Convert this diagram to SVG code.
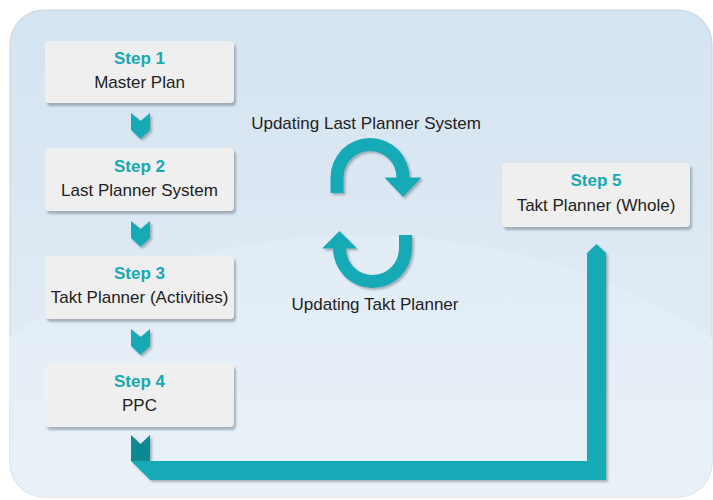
<svg xmlns="http://www.w3.org/2000/svg" width="713" height="500" viewBox="0 0 713 500">
<style>
.box{fill:#efefef;}
.t1{font-family:"Liberation Sans",Arial,sans-serif;font-size:17px;font-weight:bold;fill:#17a8b5;text-anchor:middle;}
.t2{font-family:"Liberation Sans",Arial,sans-serif;font-size:17px;fill:#222;text-anchor:middle;}
.teal{fill:#15a9b6;}
.dark{fill:#108991;}
</style>
<defs>
<linearGradient id="bg" x1="0" y1="0" x2="0" y2="1">
<stop offset="0" stop-color="#d4e4f1"/>
<stop offset="1" stop-color="#e6eef6"/>
</linearGradient>
<linearGradient id="lt" x1="0" y1="0" x2="0" y2="1">
<stop offset="0" stop-color="#e1ecf5"/>
<stop offset="0.6" stop-color="#f3f7fb"/>
<stop offset="1" stop-color="#f9fbfd"/>
</linearGradient>
<clipPath id="pc"><rect x="10" y="10" width="702" height="487" rx="34"/></clipPath>
<filter id="sh" x="-10%" y="-10%" width="130%" height="140%">
<feDropShadow dx="2" dy="3" stdDeviation="1" flood-color="#6f7e88" flood-opacity="0.55"/>
</filter>
<filter id="ash" x="-10%" y="-10%" width="130%" height="130%">
<feDropShadow dx="2" dy="2" stdDeviation="0.8" flood-color="#5f6f7a" flood-opacity="0.5"/>
</filter>
<polygon id="chev" points="131,0 140.5,8 150,0 150,17 140.5,26 131,17"/>
</defs>
<rect x="0" y="0" width="713" height="500" fill="#ffffff"/>
<g id="panel">
<rect x="10" y="10" width="702" height="487" rx="34" fill="url(#bg)" stroke="#c9d2da" stroke-width="1"/>
<g clip-path="url(#pc)">
<ellipse cx="360" cy="700" rx="560" ry="465" fill="url(#lt)"/>
</g>
</g>
<g id="connectors" filter="url(#ash)">
<use href="#chev" class="teal" y="113"/>
<use href="#chev" class="teal" y="221"/>
<use href="#chev" class="teal" y="329"/>
<polygon class="teal" points="131,461 587,461 587,253 596.5,244 606,253 606,480 150,480"/>
<polygon class="dark" points="131,435 140.5,444 150,435 150,461 131,461"/>
<path class="teal" d="M330.5,193 V177.5 A39.5,39.5 0 0 1 409.5,177.5 L421.5,177.5 L403,197 L384.5,177.5 L396.5,177.5 A26.5,26.5 0 0 0 343.5,177.5 V193 Z"/>
<path class="teal" d="M412,235 V248.5 A39.5,39.5 0 0 1 333,248.5 L322,248.5 L339.5,231 L357,248.5 L346,248.5 A26.5,26.5 0 0 0 399,248.5 V235 Z"/>
</g>
<g id="labels">
<text class="t2" x="366" y="129">Updating Last Planner System</text>
<text class="t2" x="375" y="310">Updating Takt Planner</text>
</g>
<g id="step1">
<rect class="box" x="45" y="41" width="189" height="62" rx="4" filter="url(#sh)"/>
<text class="t1" x="139.5" y="64">Step 1</text>
<text class="t2" x="139.5" y="88">Master Plan</text>
</g>
<g id="step2">
<rect class="box" x="45" y="148" width="189" height="63" rx="4" filter="url(#sh)"/>
<text class="t1" x="139.5" y="171.5">Step 2</text>
<text class="t2" x="139.5" y="195.5">Last Planner System</text>
</g>
<g id="step3">
<rect class="box" x="45" y="256" width="189" height="63" rx="4" filter="url(#sh)"/>
<text class="t1" x="139.5" y="279">Step 3</text>
<text class="t2" x="139.5" y="303">Takt Planner (Activities)</text>
</g>
<g id="step4">
<rect class="box" x="45" y="364" width="189" height="63" rx="4" filter="url(#sh)"/>
<text class="t1" x="139.5" y="387">Step 4</text>
<text class="t2" x="139.5" y="411">PPC</text>
</g>
<g id="step5">
<rect class="box" x="502" y="163" width="188" height="64" rx="4" filter="url(#sh)"/>
<text class="t1" x="596" y="186">Step 5</text>
<text class="t2" x="596" y="210.5">Takt Planner (Whole)</text>
</g>
</svg>
